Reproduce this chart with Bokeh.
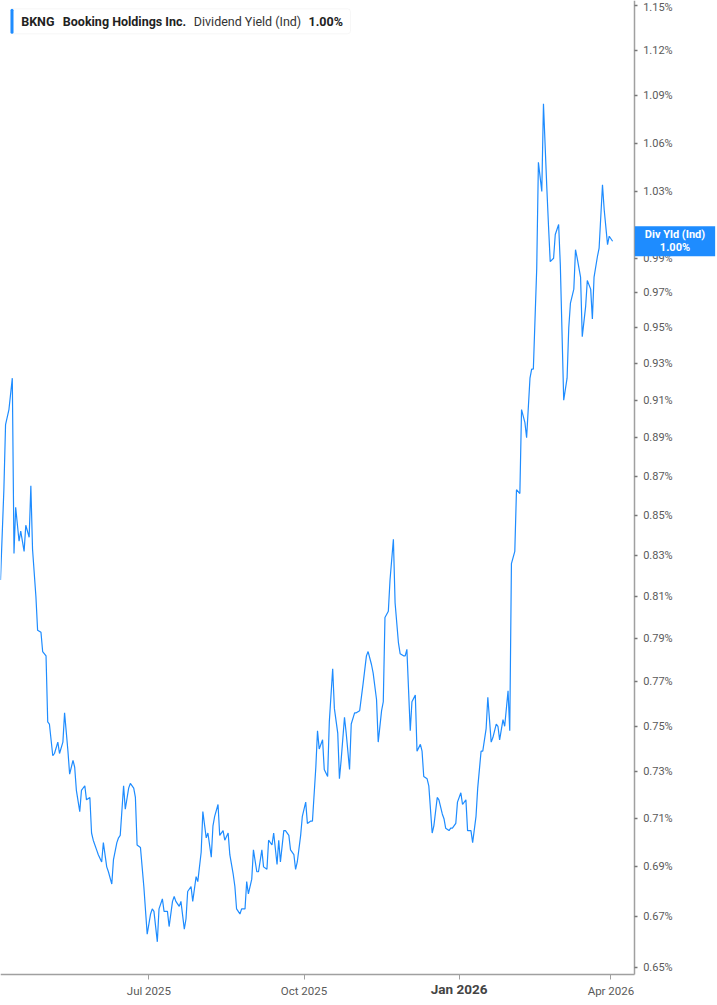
import pandas as pd
from bokeh.plotting import figure
from bokeh.models import (Range1d, FixedTicker, PrintfTickFormatter, Label,
                          BoxAnnotation, ColumnDataSource)
from bokeh.embed import file_html
from bokeh.resources import INLINE

# ---------------- data ----------------
ticker_symbol = "BKNG"
company_name = "Booking Holdings Inc."
metric_name = "Dividend Yield (Ind)"
metric_short = "Div Yld (Ind)"

start_date = "2025-04-04"
# calendar day of each observation, counted from start_date
day_offset = [
    0, 2, 3, 5, 7, 8, 9, 11, 12, 14,
    15, 17, 18, 19, 21, 22, 24, 25, 27, 28,
    29, 31, 32, 34, 35, 37, 38, 40, 41, 43,
    44, 45, 47, 48, 50, 51, 53, 54, 55, 57,
    58, 60, 61, 63, 64, 66, 67, 69, 70, 71,
    73, 74, 76, 77, 79, 80, 81, 83, 85, 87,
    89, 90, 91, 93, 94, 96, 97, 99, 100, 102,
    103, 104, 106, 107, 109, 110, 111, 113, 114, 116,
    117, 119, 120, 122, 123, 125, 126, 127, 129, 130,
    132, 133, 135, 136, 138, 139, 140, 142, 143, 145,
    146, 147, 149, 150, 152, 153, 155, 156, 158, 159,
    161, 162, 164, 165, 166, 168, 169, 171, 172, 174,
    175, 176, 178, 179, 181, 182, 184, 185, 187, 188,
    189, 191, 192, 194, 195, 197, 198, 200, 201, 202,
    204, 205, 207, 208, 210, 211, 213, 214, 215, 217,
    218, 220, 221, 223, 224, 226, 227, 228, 230, 231,
    233, 234, 236, 237, 239, 240, 241, 243, 244, 246,
    247, 249, 250, 251, 253, 254, 256, 257, 259, 260,
    262, 263, 264, 266, 267, 268, 270, 271, 273, 274,
    276, 277, 279, 280, 282, 283, 285, 286, 288, 289,
    291, 292, 294, 295, 296, 298, 299, 301, 302, 303,
    305, 306, 308, 309, 311, 312, 314, 315, 316, 318,
    319, 321, 322, 324, 325, 326, 328, 329, 331, 332,
    334, 336, 337, 338, 340, 341, 342, 344, 345, 347,
    348, 350, 351, 352, 354, 355, 357, 358, 360, 361,
    363,
]
# dividend yield, percent
div_yield = [
    0.818, 0.863, 0.897, 0.905, 0.922, 0.831, 0.854, 0.837, 0.842, 0.832,
    0.845, 0.839, 0.865, 0.833, 0.810, 0.794, 0.793, 0.784, 0.782, 0.752,
    0.751, 0.737, 0.738, 0.743, 0.738, 0.743, 0.756, 0.739, 0.729, 0.735,
    0.732, 0.722, 0.713, 0.722, 0.724, 0.718, 0.719, 0.704, 0.701, 0.697,
    0.695, 0.692, 0.700, 0.690, 0.688, 0.683, 0.693, 0.700, 0.702, 0.703,
    0.724, 0.714, 0.723, 0.725, 0.723, 0.719, 0.699, 0.698, 0.682, 0.663,
    0.671, 0.673, 0.672, 0.660, 0.673, 0.677, 0.672, 0.672, 0.666, 0.676,
    0.678, 0.676, 0.674, 0.676, 0.665, 0.669, 0.680, 0.682, 0.676, 0.686,
    0.684, 0.696, 0.713, 0.702, 0.704, 0.694, 0.707, 0.711, 0.716, 0.703,
    0.705, 0.701, 0.704, 0.695, 0.687, 0.682, 0.673, 0.671, 0.673, 0.673,
    0.684, 0.679, 0.685, 0.697, 0.688, 0.688, 0.697, 0.690, 0.689, 0.701,
    0.699, 0.704, 0.691, 0.701, 0.692, 0.705, 0.705, 0.703, 0.697, 0.695,
    0.689, 0.692, 0.703, 0.711, 0.717, 0.708, 0.709, 0.709, 0.732, 0.748,
    0.740, 0.744, 0.731, 0.728, 0.752, 0.776, 0.758, 0.747, 0.727, 0.735,
    0.754, 0.747, 0.731, 0.751, 0.756, 0.756, 0.757, 0.763, 0.769, 0.782,
    0.784, 0.778, 0.774, 0.762, 0.743, 0.757, 0.761, 0.800, 0.803, 0.818,
    0.838, 0.807, 0.788, 0.783, 0.782, 0.782, 0.785, 0.748, 0.761, 0.764,
    0.739, 0.742, 0.739, 0.728, 0.727, 0.724, 0.704, 0.707, 0.719, 0.718,
    0.712, 0.710, 0.706, 0.705, 0.706, 0.706, 0.708, 0.717, 0.721, 0.716,
    0.718, 0.705, 0.705, 0.700, 0.711, 0.723, 0.739, 0.739, 0.749, 0.763,
    0.743, 0.745, 0.751, 0.750, 0.744, 0.753, 0.750, 0.766, 0.748, 0.826,
    0.832, 0.863, 0.861, 0.905, 0.898, 0.890, 0.922, 0.927, 0.927, 0.984,
    1.048, 1.030, 1.085, 1.032, 1.009, 0.988, 0.990, 1.004, 1.010, 0.986,
    0.910, 0.922, 0.950, 0.964, 0.972, 0.995, 0.990, 0.979, 0.945, 0.962,
    0.977, 0.972, 0.955, 0.979, 0.991, 0.996, 1.034, 1.019, 0.998, 1.003,
    1.000,
]

y_ticks = [0.65, 0.67, 0.69, 0.71, 0.73, 0.75, 0.77, 0.79, 0.81, 0.83, 0.85,
           0.87, 0.89, 0.91, 0.93, 0.95, 0.97, 0.99, 1.03, 1.06, 1.09, 1.12, 1.15]
x_tick_dates = ["2025-07-01", "2025-10-01", "2026-01-01", "2026-04-01"]
x_tick_labels = ["Jul 2025", "Oct 2025", "Jan 2026", "Apr 2026"]
bold_tick_label = "Jan 2026"

# ---------------- chart ----------------
assert len(day_offset) == len(div_yield)
dates = pd.Timestamp(start_date) + pd.to_timedelta(day_offset, unit="D")
last_value = div_yield[-1]
last_text = f"{last_value:.2f}%"

FONT = "Roboto"
BLUE = "#1E8CFF"
AXIS_GREY = "#a0a0a0"
W, H = 717, 999

def ms(ts):
    return pd.Timestamp(ts).value / 1e6

# plotting area / axis geometry
x_start, x_axis_end, x_view_end = "2025-04-04", "2026-04-14 19:00", "2026-06-03 05:00"
y_view_low, y_axis_low, y_top = 0.6378, 0.6473, 1.1535

p = figure(
    frame_width=W, frame_height=H,
    x_axis_type="datetime", y_axis_type="log", y_axis_location="right",
    x_range=Range1d(pd.Timestamp(x_start), pd.Timestamp(x_view_end)),
    y_range=Range1d(y_view_low, y_top),
    output_backend="svg", toolbar_location=None,
    min_border_left=0, min_border_top=0, min_border_right=0, min_border_bottom=0,
    background_fill_color="white", border_fill_color="white",
)
p.outline_line_color = None
p.xgrid.visible = False
p.ygrid.visible = False

src = ColumnDataSource(dict(date=dates, value=div_yield))
p.line(x="date", y="value", source=src, line_color=BLUE, line_width=1.2)

# y axis (right, log)
ya = p.yaxis[0]
ya.fixed_location = ms(x_axis_end)
ya.bounds = (y_axis_low, y_top)
ya.ticker = FixedTicker(ticks=y_ticks, minor_ticks=[])
ya.formatter = PrintfTickFormatter(format="%.2f%%")
ya.axis_line_color = AXIS_GREY
ya.axis_line_width = 1.5
ya.major_tick_out = 3
ya.major_tick_in = 0
ya.minor_tick_out = 0
ya.minor_tick_in = 0
ya.major_tick_line_color = "#777777"
ya.major_tick_line_width = 1.5
ya.major_label_text_font = FONT
ya.major_label_text_font_size = "11px"
ya.major_label_text_color = "#5a5a5a"
ya.major_label_standoff = 6

# x axis (bottom, dates)
tick_ms = [ms(d) for d in x_tick_dates]
xa = p.xaxis[0]
xa.fixed_location = y_axis_low
xa.bounds = (ms(x_start), ms(x_axis_end))
xa.ticker = FixedTicker(ticks=tick_ms, minor_ticks=[])
xa.major_label_overrides = {
    t: ("" if lab == bold_tick_label else lab) for t, lab in zip(tick_ms, x_tick_labels)
}
xa.axis_line_color = AXIS_GREY
xa.axis_line_width = 1.5
xa.major_tick_out = 5
xa.major_tick_in = 0
xa.minor_tick_out = 0
xa.major_tick_line_color = AXIS_GREY
xa.major_label_text_font = FONT
xa.major_label_text_font_size = "11.5px"
xa.major_label_text_color = "#5a5a5a"
xa.major_label_standoff = 4

bold_ms = tick_ms[x_tick_labels.index(bold_tick_label)]
p.add_layout(Label(x=bold_ms, y=11, x_units="data", y_units="screen",
                   text=bold_tick_label, text_align="center", text_baseline="middle",
                   text_font=FONT, text_font_size="13.5px", text_font_style="bold",
                   text_color="#444444"))

# legend box (top-left)
p.add_layout(BoxAnnotation(left=10, right=350, top=990.7, bottom=965.7,
                           left_units="screen", right_units="screen",
                           top_units="screen", bottom_units="screen",
                           fill_color="white", fill_alpha=1.0,
                           line_color="#e4e4e4", line_width=1, border_radius=3))
p.add_layout(BoxAnnotation(left=10, right=13, top=990.7, bottom=965.7,
                           left_units="screen", right_units="screen",
                           top_units="screen", bottom_units="screen",
                           fill_color=BLUE, fill_alpha=1.0, line_color=None,
                           border_radius=2))
legend_items = [
    (20.7, ticker_symbol, "bold", "#222222"),
    (62.3, company_name, "bold", "#222222"),
    (193.3, metric_name, "normal", "#333333"),
    (308.0, last_text, "bold", "#222222"),
]
for lx, txt, style, col in legend_items:
    p.add_layout(Label(x=lx, y=978.3, x_units="screen", y_units="screen",
                       text=txt, text_align="left", text_baseline="middle",
                       text_font=FONT, text_font_size="12.5px",
                       text_font_style=style, text_color=col))

# last-value box on the right axis
p.add_layout(Label(x=674.5, y=last_value, x_units="screen", y_units="data",
                   text=f"{metric_short}\n{last_text}",
                   text_align="center", text_baseline="middle",
                   text_font=FONT, text_font_size="11px", text_font_style="bold",
                   text_color="white", text_line_height=1.0,
                   background_fill_color=BLUE, background_fill_alpha=1.0,
                   padding=(10, 2)))

open("out.html", "w").write(file_html(p, INLINE))
